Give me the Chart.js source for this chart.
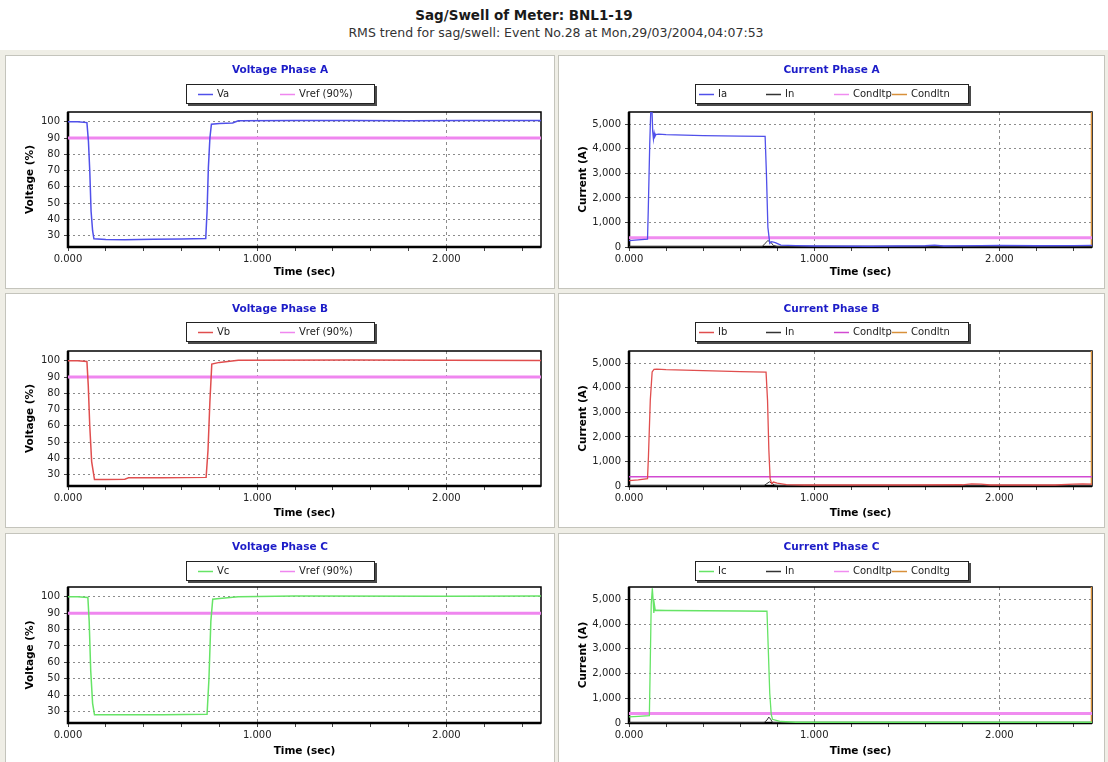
<!DOCTYPE html>
<html>
<head>
<meta charset="utf-8">
<script src="https://cdn.jsdelivr.net/npm/chart.js@4.4.1/dist/chart.umd.min.js"></script>
<style>
  html, body { margin: 0; padding: 0; }
  body { width: 1108px; height: 762px; background: #ffffff; position: relative; overflow: hidden;
         font-family: "DejaVu Sans", sans-serif; }
  #heading { position: absolute; left: 0; top: 6px; width: 1048px; text-align: center;
             font: bold 13.5px "DejaVu Sans", sans-serif; line-height: 18px; color: #1a1a1a; }
  #subheading { position: absolute; left: 0; top: 25px; width: 1112px; text-align: center;
                font: 12.5px "DejaVu Sans", sans-serif; line-height: 16px; color: #333; }
  #backdrop { position: absolute; left: 0; top: 50px; width: 1108px; height: 712px; background: #efeee6; }
  canvas.panel { position: absolute; background: #ffffff; box-shadow: 0 0 0 1px #c4c4bc; }
</style>
</head>
<body>
<div id="heading">Sag/Swell of Meter: BNL1-19</div>
<div id="subheading">RMS trend for sag/swell: Event No.28 at Mon,29/03/2004,04:07:53</div>
<div id="backdrop"></div>

<canvas id="vA" class="panel"></canvas>
<canvas id="iA" class="panel"></canvas>
<canvas id="vB" class="panel"></canvas>
<canvas id="iB" class="panel"></canvas>
<canvas id="vC" class="panel"></canvas>
<canvas id="iC" class="panel"></canvas>

<script>
// ---------- axis ticks ----------
const timeTicks      = [0, 0.2, 0.4, 0.6, 0.8, 1, 1.2, 1.4, 1.6, 1.8, 2, 2.2, 2.4];
const timeLabelled   = [0, 1, 2];
const voltageTicks   = [30, 40, 50, 60, 70, 80, 90, 100];
const currentTicks   = [0, 1000, 2000, 3000, 4000, 5000];

// ---------- voltage, phase A (%) ----------
const vaTime  = [0, 0.05, 0.100, 0.108, 0.115, 0.122, 0.130, 0.137, 0.2, 0.3, 0.45, 0.6, 0.728, 0.735, 0.742, 0.750, 0.758, 0.80, 0.87, 0.90, 1.2, 1.5, 1.8, 2.1, 2.5];
const vaValue = [100, 100, 99.5, 88, 70, 45, 33, 28, 27.6, 27.5, 27.8, 27.9, 28.2, 45, 72, 90, 98.5, 99, 99.3, 100.6, 100.8, 100.7, 100.6, 100.8, 100.7];

// ---------- voltage, phase B (%) ----------
const vbTime  = [0, 0.05, 0.100, 0.107, 0.115, 0.125, 0.140, 0.2, 0.30, 0.32, 0.5, 0.730, 0.740, 0.750, 0.760, 0.80, 0.90, 1.5, 2.0, 2.5];
const vbValue = [100, 100, 99.6, 85, 60, 38, 27, 27, 27.2, 28, 28, 28.3, 45, 75, 98, 99, 100.3, 100.4, 100.3, 100.2];

// ---------- voltage, phase C (%) ----------
const vcTime  = [0, 0.05, 0.105, 0.112, 0.120, 0.130, 0.140, 0.3, 0.5, 0.735, 0.745, 0.755, 0.765, 0.80, 0.90, 1.2, 2.0, 2.5];
const vcValue = [100, 100, 99.6, 85, 55, 35, 28, 28, 28, 28.3, 50, 85, 98.5, 99, 100, 100.5, 100.4, 100.5];

// ---------- reference level for the voltage panels (%) ----------
const vrefTime  = [0, 2.5];
const vrefValue = [90, 90];

// ---------- current, phase A (A) ----------
const iaTime  = [0, 0.05, 0.100, 0.104, 0.112, 0.119, 0.124, 0.128, 0.132, 0.136, 0.140, 0.145, 0.16, 0.2, 0.4, 0.6, 0.735, 0.742, 0.750, 0.760, 0.770, 0.790, 0.82, 0.9, 1.0, 1.3, 1.6, 1.65, 1.7, 1.9, 2.0, 2.2, 2.4, 2.5];
const iaValue = [260, 290, 320, 1500, 4200, 5900, 5600, 4700, 4400, 4650, 4500, 4580, 4600, 4580, 4540, 4520, 4510, 3000, 800, 150, 220, 180, 80, 60, 40, 30, 50, 80, 40, 60, 70, 50, 60, 70];

// ---------- current, phase B (A) ----------
const ibTime  = [0, 0.05, 0.100, 0.105, 0.115, 0.125, 0.135, 0.15, 0.2, 0.4, 0.6, 0.740, 0.748, 0.755, 0.762, 0.770, 0.780, 0.80, 0.85, 0.95, 1.5, 1.8, 1.85, 1.9, 1.95, 2.3, 2.4, 2.45, 2.5];
const ibValue = [220, 250, 300, 1200, 3500, 4650, 4750, 4760, 4740, 4700, 4660, 4640, 3500, 1500, 300, 100, 160, 120, 60, 40, 40, 50, 90, 80, 40, 40, 80, 90, 80];

// ---------- current, phase C (A) ----------
const icTime  = [0, 0.05, 0.110, 0.115, 0.120, 0.126, 0.130, 0.134, 0.138, 0.142, 0.15, 0.2, 0.4, 0.6, 0.745, 0.752, 0.760, 0.768, 0.775, 0.79, 0.82, 0.9, 1.5, 2.5];
const icValue = [250, 270, 300, 2500, 4800, 5450, 5000, 4450, 4750, 4550, 4560, 4550, 4540, 4530, 4520, 3000, 1200, 350, 150, 120, 60, 30, 30, 30];

// ---------- neutral current (A) ----------
const inATime  = [0, 0.72, 0.735, 0.750, 0.765, 0.780, 0.80, 2.5];
const inAValue = [20, 20, 150, 260, 200, 60, 20, 20];
const inBTime  = [0, 0.73, 0.745, 0.758, 0.770, 0.785, 0.80, 2.5];
const inBValue = [20, 20, 100, 170, 120, 40, 20, 20];
const inCTime  = [0, 0.73, 0.745, 0.755, 0.765, 0.775, 2.5];
const inCValue = [20, 20, 120, 240, 150, 20, 20];

// ---------- conduction thresholds (A) ----------
const condPTime  = [0, 2.5];
const condPValue = [380, 380];
const condNTime  = [2.5, 2.5];
const condNValue = [0, 5600];

// ---------- drawing ----------
const FAMILY = '"DejaVu Sans", sans-serif';
const xy = (t, v) => t.map((x, i) => ({ x, y: v[i] }));

// heading, boxed legend and plot frame of each panel
const panelDecor = {
  id: 'panelDecor',
  beforeDatasetsDraw(chart) {
    const { ctx, chartArea: a } = chart;
    ctx.save();
    ctx.strokeStyle = '#000';
    ctx.lineWidth = 1.5;
    ctx.strokeRect(a.left, a.top, a.right - a.left, a.bottom - a.top);
    ctx.lineWidth = 2.5;
    ctx.beginPath();
    ctx.moveTo(a.left, a.top);
    ctx.lineTo(a.left, a.bottom);
    ctx.lineTo(a.right, a.bottom);
    ctx.stroke();
    ctx.restore();
  },
  afterDraw(chart, args, o) {
    const { ctx } = chart;
    const W = chart.width;
    ctx.save();
    ctx.font = `bold ${o.headingSize}px ${FAMILY}`;
    ctx.fillStyle = '#1c1cc8';
    ctx.textAlign = 'center';
    ctx.textBaseline = 'middle';
    ctx.fillText(o.heading, W / 2, o.headingY);

    const bw = o.legendW, bh = o.legendH;
    const bx = Math.round((W - bw) / 2), by = o.legendY;
    ctx.fillStyle = '#4a4a4a';
    ctx.fillRect(bx + 2, by + 2, bw, bh);
    ctx.fillStyle = '#ffffff';
    ctx.fillRect(bx, by, bw, bh);
    ctx.strokeStyle = '#222';
    ctx.lineWidth = 1;
    ctx.strokeRect(bx + 0.5, by + 0.5, bw - 1, bh - 1);

    ctx.font = `${o.legendSize}px ${FAMILY}`;
    ctx.textAlign = 'left';
    chart.data.datasets.forEach((ds, i) => {
      const x = bx + o.itemX[i], y = by + bh / 2 + 0.5;
      ctx.strokeStyle = ds.borderColor;
      ctx.lineWidth = 1.5;
      ctx.beginPath();
      ctx.moveTo(x, y);
      ctx.lineTo(x + 15, y);
      ctx.stroke();
      ctx.fillStyle = '#222';
      ctx.fillText(ds.label, x + 19, y);
    });
    ctx.restore();
  }
};

function series(label, t, v, color, width) {
  return { label, data: xy(t, v), borderColor: color, borderWidth: width,
           pointRadius: 0, tension: 0, fill: false };
}

function buildPanel(p) {
  const el = document.getElementById(p.id);
  el.width = p.w; el.height = p.h;
  el.style.left = p.x + 'px'; el.style.top = p.y + 'px';
  return new Chart(el, {
    type: 'line',
    data: { datasets: p.datasets },
    options: {
      responsive: false, animation: false, devicePixelRatio: 1,
      layout: { padding: { top: p.plotTop, right: p.rightPad, left: 0, bottom: 0 } },
      plugins: {
        legend: { display: false }, tooltip: { enabled: false },
        panelDecor: { heading: p.heading, headingY: p.headingY, headingSize: 10.5,
                      legendW: p.legendW, legendH: 20, legendY: p.legendY,
                      legendSize: 10, itemX: p.itemX }
      },
      scales: {
        x: {
          type: 'linear', min: 0, max: 2.5,
          afterBuildTicks: s => { s.ticks = timeTicks.map(v => ({ value: v })); },
          afterFit: s => { s.height = p.bottomPad; },
          ticks: { autoSkip: false, maxRotation: 0, minRotation: 0, padding: 2,
                   font: { family: FAMILY, size: 10 }, color: '#222',
                   callback: v => timeLabelled.includes(v) ? v.toFixed(3) : '' },
          grid: { color: c => (c.tick && timeLabelled.includes(c.tick.value) && c.tick.value > 0) ? '#8c8c8c' : 'transparent',
                  lineWidth: 1, drawTicks: true, tickLength: 4, tickColor: '#444' },
          border: { display: false, dash: [3, 3] },
          title: { display: true, text: 'Time (sec)', color: '#000',
                   font: { family: FAMILY, size: 10.5, weight: 'bold' },
                   padding: { top: 0, bottom: p.xTitlePad } }
        },
        y: {
          type: 'linear', min: p.yMin, max: p.yMax,
          afterBuildTicks: s => { s.ticks = p.yTicks.map(v => ({ value: v })); },
          afterFit: s => { s.width = p.plotLeft; },
          ticks: { padding: 4, font: { family: FAMILY, size: 10 }, color: '#222',
                   callback: v => v.toLocaleString('en-US') },
          grid: { color: '#8c8c8c', lineWidth: 1, drawTicks: true, tickLength: 4, tickColor: '#444' },
          border: { display: false, dash: [2, 3] },
          title: { display: true, text: p.yTitle, color: '#000',
                   font: { family: FAMILY, size: 10.5, weight: 'bold' },
                   padding: { top: 17.7, bottom: 0 } }
        }
      }
    },
    plugins: [panelDecor]
  });
}

// panel placement on the page
const LEFT  = { x: 6,   w: 548, plotLeft: 62, rightPad: 13, legendW: 189, itemX: [12, 94] };
const RIGHT = { x: 559, w: 545, plotLeft: 70, rightPad: 12, legendW: 274, itemX: [4, 71, 139, 197] };
const ROWS = [
  { y: 56,  h: 232, plotTop: 56, bottomPad: 41, headingY: 14, legendY: 28, xTitlePad: 9.7 },
  { y: 294, h: 233, plotTop: 57, bottomPad: 41, headingY: 15, legendY: 28, xTitlePad: 7.7 },
  { y: 534, h: 228, plotTop: 53, bottomPad: 39, headingY: 13, legendY: 27, xTitlePad: 4.7 }
];

const VREF = '#ef86ef';
const COND_P = '#f08cf0';
const COND_N = '#d8903a';
const NEUTRAL = '#333333';

const voltagePanels = [
  { id: 'vA', heading: 'Voltage Phase A', datasets: [series('Va', vaTime, vaValue, '#5050ea', 1.5), series('Vref (90%)', vrefTime, vrefValue, VREF, 3)] },
  { id: 'vB', heading: 'Voltage Phase B', datasets: [series('Vb', vbTime, vbValue, '#e04e4e', 1.5), series('Vref (90%)', vrefTime, vrefValue, VREF, 3)] },
  { id: 'vC', heading: 'Voltage Phase C', datasets: [series('Vc', vcTime, vcValue, '#66e466', 1.5), series('Vref (90%)', vrefTime, vrefValue, VREF, 3)] }
];
const currentPanels = [
  { id: 'iA', heading: 'Current Phase A', datasets: [series('Ia', iaTime, iaValue, '#5050ea', 1.3), series('In', inATime, inAValue, NEUTRAL, 1),
      series('Condltp', condPTime, condPValue, COND_P, 3), series('Condltn', condNTime, condNValue, COND_N, 2.5)] },
  { id: 'iB', heading: 'Current Phase B', datasets: [series('Ib', ibTime, ibValue, '#e04e4e', 1.3), series('In', inBTime, inBValue, NEUTRAL, 1),
      series('Condltp', condPTime, condPValue, '#d24ad2', 1.5), series('Condltn', condNTime, condNValue, COND_N, 2.5)] },
  { id: 'iC', heading: 'Current Phase C', datasets: [series('Ic', icTime, icValue, '#66e466', 1.3), series('In', inCTime, inCValue, NEUTRAL, 1),
      series('Condltp', condPTime, condPValue, COND_P, 3), series('Condltg', condNTime, condNValue, COND_N, 2.5)] }
];

voltagePanels.forEach((v, r) => buildPanel(Object.assign({}, LEFT, ROWS[r], v,
  { yMin: 23, yMax: 106, yTicks: voltageTicks, yTitle: 'Voltage (%)' })));
currentPanels.forEach((c, r) => buildPanel(Object.assign({}, RIGHT, ROWS[r], c,
  { yMin: 0, yMax: 5500, yTicks: currentTicks, yTitle: 'Current (A)' })));
</script>
</body>
</html>
